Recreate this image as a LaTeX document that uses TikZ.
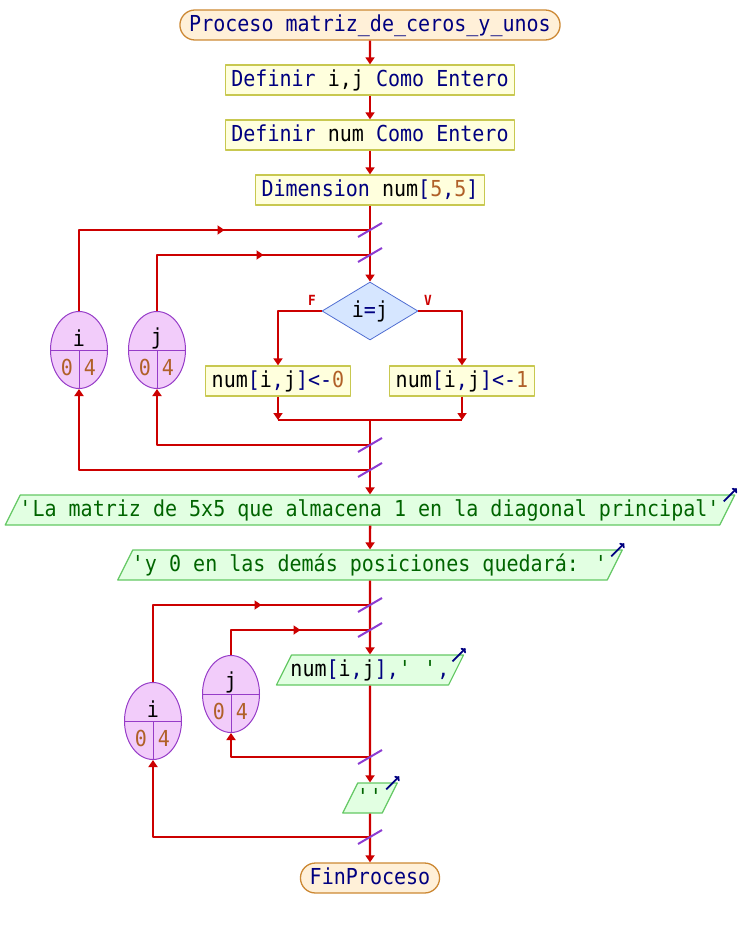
\documentclass[tikz,border=0pt]{standalone}
\usepackage{fontspec}
\newfontfamily\psefont[FakeStretch=0.91]{DejaVu Sans Mono}
\usepackage{tikz}
\usetikzlibrary{arrows.meta}
\usetikzlibrary{shapes.geometric}
\usetikzlibrary{shapes.misc}
\usetikzlibrary{calc}
\usetikzlibrary{positioning}

\definecolor{rojo}{RGB}{204,0,0}
\definecolor{violeta}{RGB}{140,60,210}
\definecolor{azul}{RGB}{0,0,128}
\definecolor{marron}{RGB}{176,96,40}
\definecolor{verde}{RGB}{0,100,0}
\definecolor{amarillo}{RGB}{255,255,221}
\definecolor{bordeamarillo}{RGB}{200,200,80}
\definecolor{naranja}{RGB}{255,240,216}
\definecolor{bordenaranja}{RGB}{204,136,51}
\definecolor{celeste}{RGB}{214,230,255}
\definecolor{bordeceleste}{RGB}{80,110,210}
\definecolor{lila}{RGB}{242,204,250}
\definecolor{bordelila}{RGB}{150,60,200}
\definecolor{menta}{RGB}{226,255,226}
\definecolor{bordementa}{RGB}{100,200,100}

\newcommand{\clave}[1]{\textcolor{azul}{#1}}
\newcommand{\numero}[1]{\textcolor{marron}{#1}}
\newcommand{\cadena}[1]{\textcolor{verde}{#1}}

\begin{document}
\begin{tikzpicture}[x=1pt,y=-1pt,line join=round,>={Triangle[length=7pt,width=9pt]},
    every node/.style={font=\psefont\fontsize{22}{22}\selectfont},
    caja/.style={text height=17pt,text depth=4pt,inner ysep=4.5pt},
    flujo/.style={draw=rojo,line width=2.4pt},
    corte/.style={draw=violeta,line width=2pt},
    terminal/.style={caja,rounded rectangle,draw=bordenaranja,fill=naranja,line width=1.3pt,inner xsep=5pt},
    accion/.style={caja,rectangle,draw=bordeamarillo,fill=amarillo,line width=1.3pt,inner xsep=6pt},
    decision/.style={diamond,draw=bordeceleste,fill=celeste,line width=0.8pt,minimum width=96pt,minimum height=58pt,inner sep=0pt},
    salida/.style={caja,trapezium,trapezium left angle=63.4,trapezium right angle=116.6,draw=bordementa,fill=menta,line width=1.2pt,inner xsep=-1pt},
    pantalla/.style={draw=azul,line width=1.8pt,-{To[length=4pt,width=7pt]}},
    ciclo/.style={ellipse,draw=bordelila,fill=lila,line width=1pt,minimum width=57pt,minimum height=77pt,inner sep=0pt},
    cicloraya/.style={draw=bordelila,line width=1pt},
    etiqueta/.style={text=rojo,font=\psefont\bfseries\fontsize{14}{14}\selectfont}]
  \useasboundingbox (0,0) rectangle (740,928);

  % encabezado y definiciones
  \node[terminal] (ini) at (370,25) {\clave{Proceso matriz\_de\_ceros\_y\_unos}};
  \node[accion] (defij) at (370,80) {\clave{Definir} i,j \clave{Como Entero}};
  \node[accion] (defnum) at (370,135) {\clave{Definir} num \clave{Como Entero}};
  \node[accion] (dim) at (370,190) {\clave{Dimension} num\clave{[}\numero{5}\clave{,}\numero{5}\clave{]}};
  \draw[flujo,->] (ini) -- (defij);
  \draw[flujo,->] (defij) -- (defnum);
  \draw[flujo,->] (defnum) -- (dim);

  % primer par de ciclos
  \coordinate (li1) at (370,230);
  \coordinate (lj1) at (370,255);
  \coordinate (merge) at (370,420);
  \coordinate (lj1e) at (370,445);
  \coordinate (li1e) at (370,470);
  \node[decision] (cond) at (370,311) {i\clave{=}j};
  \node[etiqueta] (lf) at (312,300) {F};
  \node[etiqueta] (lv) at (428,300) {V};
  \node[accion] (t0) at (278,381) {num\clave{[}i\clave{,}j\clave{]<-}\numero{0}};
  \node[accion] (t1) at (462,381) {num\clave{[}i\clave{,}j\clave{]<-}\numero{1}};
  \draw[flujo,->] (dim) -- (cond);
  \draw[flujo,->] (cond) -| (t0);
  \draw[flujo,->] (cond) -| (t1);
  \draw[flujo,->] (t0) -- (t0 |- merge);
  \draw[flujo,->] (t1) -- (t1 |- merge);
  \draw[flujo] (t0 |- merge) -- (t1 |- merge);

  \node[ciclo] (ei1) at (79,350) {};
  \draw[cicloraya] (ei1.west) -- (ei1.east) (ei1.center) -- (ei1.south);
  \node (ei1v) at ($(ei1)+(0,-12)$) {i};
  \node (ei1a) at ($(ei1)+(-12,17)$) {\numero{0}};
  \node (ei1b) at ($(ei1)+(11,17)$) {\numero{4}};
  \node[ciclo] (ej1) at (157,350) {};
  \draw[cicloraya] (ej1.west) -- (ej1.east) (ej1.center) -- (ej1.south);
  \node (ej1v) at ($(ej1)+(0,-12)$) {j};
  \node (ej1a) at ($(ej1)+(-12,17)$) {\numero{0}};
  \node (ej1b) at ($(ej1)+(11,17)$) {\numero{4}};

  \draw[flujo] (ei1) |- (li1);
  \draw[flujo,->] (ei1 |- li1) -- ($(ei1 |- li1)!0.5!(li1)$);
  \draw[flujo] (ej1) |- (lj1);
  \draw[flujo,->] (ej1 |- lj1) -- ($(ej1 |- lj1)!0.5!(lj1)$);
  \draw[flujo,->] (lj1e) -| (ej1);
  \draw[flujo,->] (li1e) -| (ei1);

  % mensajes
  \node[salida] (out1) at (370,510) {\cadena{\textquotesingle La matriz de 5x5 que almacena 1 en la diagonal principal\textquotesingle}};
  \node[salida] (out2) at (370,565) {\cadena{\textquotesingle y 0 en las demás posiciones quedará: \textquotesingle}};
  \draw[flujo,->] (merge) -- (out1);
  \draw[flujo,->] (out1) -- (out2);
  \draw[pantalla] ($(out1.top right corner)+(-12,7)$) -- ($(out1.top right corner)+(1,-6)$);
  \draw[pantalla] ($(out2.top right corner)+(-12,7)$) -- ($(out2.top right corner)+(1,-6)$);

  % segundo par de ciclos
  \coordinate (li2) at (370,605);
  \coordinate (lj2) at (370,630);
  \coordinate (lj2e) at (370,757);
  \coordinate (li2e) at (370,837);
  \node[salida] (out3) at (370,670) {num\clave{[}i\clave{,}j\clave{],}\cadena{\textquotesingle{} \textquotesingle}\clave{,}};
  \node[salida] (out4) at (370,798) {\cadena{\textquotesingle\textquotesingle}};
  \node[terminal] (fin) at (370,878) {\clave{FinProceso}};
  \draw[flujo,->] (out2) -- (out3);
  \draw[flujo,->] (out3) -- (out4);
  \draw[flujo,->] (out4) -- (fin);
  \draw[pantalla] ($(out3.top right corner)+(-12,7)$) -- ($(out3.top right corner)+(1,-6)$);
  \draw[pantalla] ($(out4.top right corner)+(-12,7)$) -- ($(out4.top right corner)+(1,-6)$);

  \node[ciclo] (ei2) at (153,721) {};
  \draw[cicloraya] (ei2.west) -- (ei2.east) (ei2.center) -- (ei2.south);
  \node (ei2v) at ($(ei2)+(0,-12)$) {i};
  \node (ei2a) at ($(ei2)+(-12,17)$) {\numero{0}};
  \node (ei2b) at ($(ei2)+(11,17)$) {\numero{4}};
  \node[ciclo] (ej2) at (231,694) {};
  \draw[cicloraya] (ej2.west) -- (ej2.east) (ej2.center) -- (ej2.south);
  \node (ej2v) at ($(ej2)+(0,-12)$) {j};
  \node (ej2a) at ($(ej2)+(-12,17)$) {\numero{0}};
  \node (ej2b) at ($(ej2)+(11,17)$) {\numero{4}};

  \draw[flujo] (ei2) |- (li2);
  \draw[flujo,->] (ei2 |- li2) -- ($(ei2 |- li2)!0.5!(li2)$);
  \draw[flujo] (ej2) |- (lj2);
  \draw[flujo,->] (ej2 |- lj2) -- ($(ej2 |- lj2)!0.5!(lj2)$);
  \draw[flujo,->] (lj2e) -| (ej2);
  \draw[flujo,->] (li2e) -| (ei2);

  % marcas de corte
  \draw[corte] ($(li1)+(-12,7)$) -- ($(li1)+(12,-7)$);
  \draw[corte] ($(lj1)+(-12,7)$) -- ($(lj1)+(12,-7)$);
  \draw[corte] ($(lj1e)+(-12,7)$) -- ($(lj1e)+(12,-7)$);
  \draw[corte] ($(li1e)+(-12,7)$) -- ($(li1e)+(12,-7)$);
  \draw[corte] ($(li2)+(-12,7)$) -- ($(li2)+(12,-7)$);
  \draw[corte] ($(lj2)+(-12,7)$) -- ($(lj2)+(12,-7)$);
  \draw[corte] ($(lj2e)+(-12,7)$) -- ($(lj2e)+(12,-7)$);
  \draw[corte] ($(li2e)+(-12,7)$) -- ($(li2e)+(12,-7)$);
\end{tikzpicture}
\end{document}
